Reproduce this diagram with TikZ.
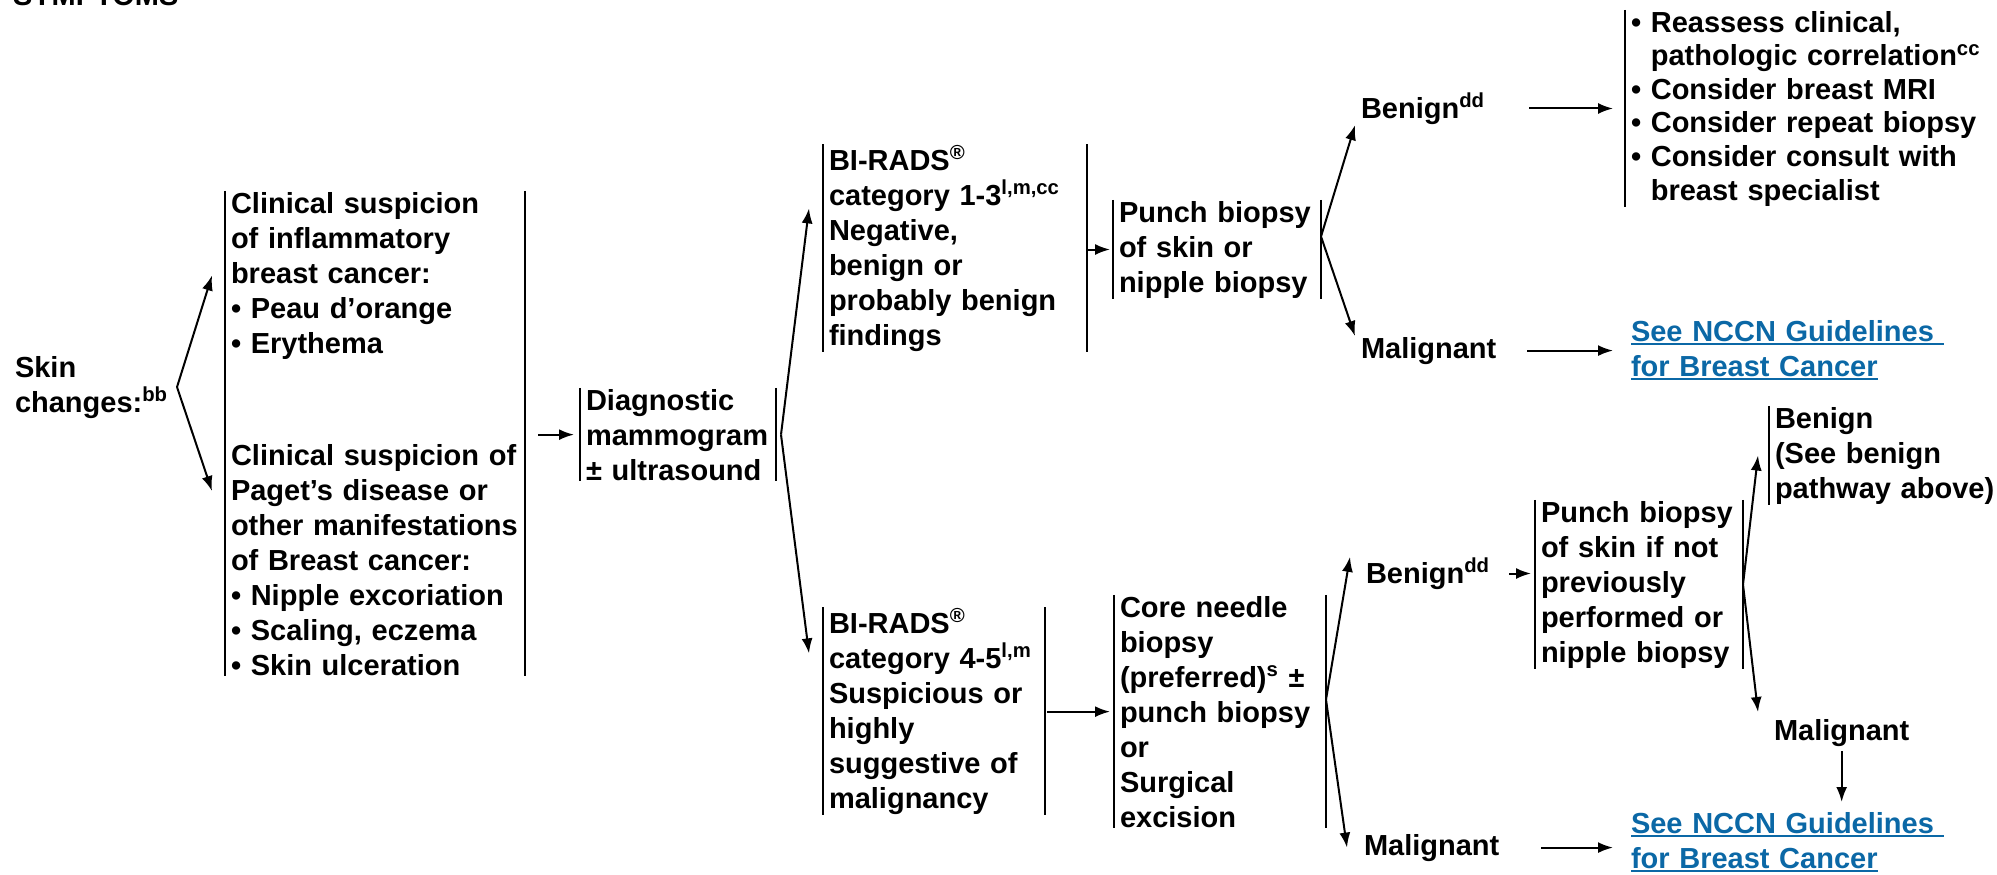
\documentclass[tikz,border=0pt]{standalone}
\usepackage{fontspec}
\setmainfont{Liberation Sans}
\usetikzlibrary{arrows.meta}
\definecolor{nccnblue}{RGB}{11,104,166}
\hyphenpenalty=10000
\newsavebox{\lnkbox}
\newcommand{\lnk}[1]{\leavevmode\sbox{\lnkbox}{#1}\rlap{\rule[-2.2pt]{\wd\lnkbox}{1pt}}\usebox{\lnkbox}}

\begin{document}
\begin{tikzpicture}[x=0.5pt, y=-0.5pt,
        every node/.style={font=\bfseries\fontsize{14.5}{17.5}\selectfont,
            inner xsep=2.5pt, inner ysep=0pt, anchor=base west},
        txtbox/.style={text width=#1, align=left},
        sidebar/.style={line width=1.1pt},
        link/.style={text=nccnblue},
        >={Latex[length=7.5pt,width=5.5pt]}, line width=1pt]

        \path[use as bounding box, fill=white] (0, 0) rectangle (1997, 874);

        \node (sym) at (7, 5) {SYMPTOMS};
        \node[txtbox=76pt] (skin) at (9, 377) {Skin\\changes:\textsuperscript{bb}};

        % clinical suspicion
        \node[txtbox=144pt] (infl) at (225, 213) {Clinical suspicion\\of inflammatory\\breast cancer:\\\textbullet\ Peau d’orange\\\textbullet\ Erythema};
        \node[txtbox=144pt] (paget) at (225, 465) {Clinical suspicion of\\Paget’s disease or\\other manifestations\\of Breast cancer:\\\textbullet\ Nipple excoriation\\\textbullet\ Scaling, eczema\\\textbullet\ Skin ulceration};
        \node[txtbox=92pt] (diag) at (580, 410) {Diagnostic\\mammogram\\± ultrasound};

        % BI-RADS 1-3
        \node[txtbox=126pt] (birA) at (823, 170) {BI-RADS\textsuperscript{®}\\category 1-3\textsuperscript{l,m,cc}\\Negative,\\benign or\\probably benign\\findings};
        \node[txtbox=98pt] (punchA) at (1113, 222) {Punch biopsy\\of skin or\\nipple biopsy};
        \node (benA) at (1355, 118) {Benign\textsuperscript{dd}};
        \node (malA) at (1355, 358) {Malignant};
        \node[txtbox=176pt, font=\bfseries\fontsize{14.5}{16.8}\selectfont] (reass) at (1625, 32) {\textbullet\ Reassess clinical,\\\phantom{\textbullet\ }pathologic correlation\textsuperscript{cc}\\\textbullet\ Consider breast MRI\\\textbullet\ Consider repeat biopsy\\\textbullet\ Consider consult with\\\phantom{\textbullet\ }breast specialist};
        \node[txtbox=155pt, link] (seeA) at (1625, 341) {\lnk{See NCCN Guidelines\ }\\\lnk{for Breast Cancer}};

        % BI-RADS 4-5
        \node[txtbox=105pt] (birB) at (823, 633) {BI-RADS\textsuperscript{®}\\category 4-5\textsuperscript{l,m}\\Suspicious or\\highly\\suggestive of\\malignancy};
        \node[txtbox=100pt] (core) at (1114, 617) {Core needle\\biopsy\\(preferred)\textsuperscript{s} ±\\punch biopsy\\or\\Surgical\\excision};
        \node (benB) at (1360, 583) {Benign\textsuperscript{dd}};
        \node (malB) at (1358, 855) {Malignant};
        \node[txtbox=98pt] (punchB) at (1535, 522) {Punch biopsy\\of skin if not\\previously\\performed or\\nipple biopsy};
        \node[txtbox=112pt] (benC) at (1769, 428) {Benign\\(See benign\\pathway above)};
        \node (malC) at (1768, 740) {Malignant};
        \node[txtbox=155pt, link] (seeB) at (1625, 833) {\lnk{See NCCN Guidelines\ }\\\lnk{for Breast Cancer}};

        % side bars
        \draw[sidebar] (infl.north west) -- (paget.south west);
        \draw[sidebar] (infl.north east) -- (paget.south east);
        \foreach \n in {diag, birA, punchA, birB, core, punchB} {
            \draw[sidebar] (\n.north west) -- (\n.south west);
            \draw[sidebar] (\n.north east) -- (\n.south east);
        }
        \draw[sidebar] (reass.north west) -- (reass.south west);
        \draw[sidebar] (benC.north west) -- (benC.south west);

        % arrows
        \draw[->] ([xshift=2pt]skin.east) -- ([xshift=-6.5pt]infl.west);
        \draw[->] ([xshift=2pt]skin.east) -- ([xshift=-6.5pt,yshift=-24pt]paget.north west);
        \draw[->, shorten <=6.5pt, shorten >=3pt] (paget.east |- diag.west) -- (diag.west);
        \draw[->] ([xshift=2.5pt]diag.east) -- ([xshift=-7pt,yshift=-32pt]birA.north west);
        \draw[->] ([xshift=2.5pt]diag.east) -- ([xshift=-7pt,yshift=-23pt]birB.north west);

        \draw[->, shorten >=1.5pt] (birA.east |- punchA.west) -- (punchA.west);
        \draw[->] ([yshift=6.5pt]punchA.east) -- (benA.south west);
        \draw[->] ([yshift=6.5pt]punchA.east) -- (malA.north west);
        \draw[->, shorten <=19pt, shorten >=6pt] (benA.east) -- (benA.east -| reass.west);
        \draw[->, shorten <=12.5pt, shorten >=6pt] (malA.east) -- (malA.east -| seeA.west);

        \draw[->, shorten <=1pt, shorten >=2pt] (birB.east |- core.west) -- (core.west);
        \draw[->] ([yshift=6pt]core.east) -- ([xshift=-5pt]benB.north west);
        \draw[->] ([yshift=6pt]core.east) -- ([xshift=-5.5pt]malB.west);
        \draw[->, shorten <=6.5pt, shorten >=2pt] (benB.east) -- (benB.east -| punchB.west);
        \draw[->, shorten <=18pt, shorten >=6pt] (malB.east) -- (malB.east -| seeB.west);
        \draw[->] (punchB.east) -- ([xshift=-5.5pt]benC.west);
        \draw[->] (punchB.east) -- ([xshift=-5pt,yshift=3pt]malC.north west);
        \draw[->, shorten <=2pt, shorten >=4.5pt] (malC.south) -- (malC.south |- seeB.north);

\end{tikzpicture}
\end{document}
